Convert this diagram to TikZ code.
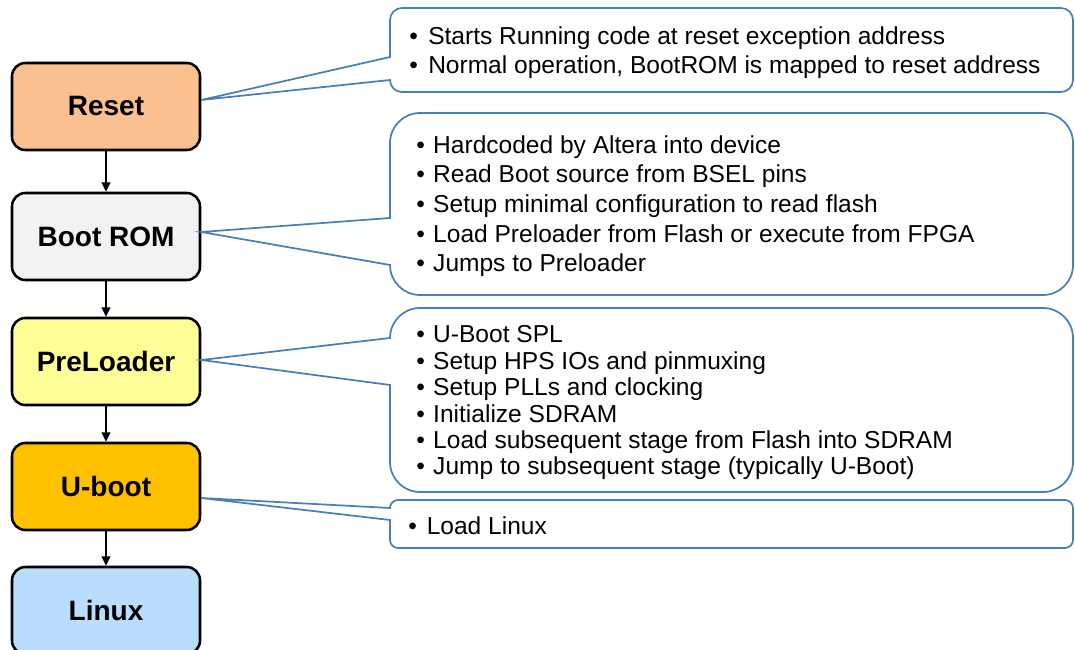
\documentclass[tikz,border=0pt]{standalone}
\usepackage{fontspec}
\setmainfont{Liberation Sans}
\usetikzlibrary{arrows.meta,calc}
\definecolor{resetc}{HTML}{FAC090}
\definecolor{romc}{HTML}{F2F2F2}
\definecolor{prec}{HTML}{FFFF99}
\definecolor{ubootc}{HTML}{FFC000}
\definecolor{linuxc}{HTML}{BADCFD}
\definecolor{calloutc}{HTML}{4A7EBB}
\begin{document}
\begin{tikzpicture}[x=0.75pt,y=0.75pt,
  stage/.style={draw=black, line width=1.9pt, rounded corners=10pt,
    minimum width=141pt, minimum height=65.25pt, inner sep=0pt,
    font=\fontsize{21}{25}\selectfont\bfseries},
  callout/.style={draw=calloutc, line width=1.3pt, fill=white},
  flow/.style={-{Triangle[length=7pt,width=6.5pt]}, line width=1.5pt, black},
  item/.style={anchor=base west, inner sep=0pt, font=\fontsize{18.4}{22}\selectfont}]
\useasboundingbox (0,0) rectangle (1075,650);
\begin{scope}
\clip (0,0) rectangle (1075,650);
% stages
\node[stage, fill=resetc]  (reset)   at (106,543.5) {Reset};
\node[stage, fill=romc]    (bootrom) at (106,413.5) {Boot ROM};
\node[stage, fill=prec]    (pre)     at (106,288.5) {PreLoader};
\node[stage, fill=ubootc]  (uboot)   at (106,163.5) {U-boot};
\node[stage, fill=linuxc]  (linux)   at (106,39.5)  {Linux};
\draw[flow] (reset) -- (bootrom);
\draw[flow] (bootrom) -- (pre);
\draw[flow] (pre) -- (uboot);
\draw[flow] (uboot) -- (linux);
% callout 1
\draw[callout] ($(reset.east)+(0,6.5)$) -- (390,593) -- (390,630)
  arc[start angle=180,end angle=90,radius=12] -- (1061,642)
  arc[start angle=90,end angle=0,radius=12] -- (1073,570)
  arc[start angle=0,end angle=-90,radius=12] -- (402,558)
  arc[start angle=270,end angle=180,radius=12] -- cycle;
\node[item] (c1a) at (409,605.7) {\makebox[14.25pt][l]{\textbullet}Starts Running code at reset exception address};
\node[item] (c1b) at (409,576.7) {\makebox[14.25pt][l]{\textbullet}Normal operation, BootROM is mapped to reset address};
% callout 2
\draw[callout] ($(bootrom.east)+(0,4.5)$) -- (390,432) -- (390,507)
  arc[start angle=180,end angle=90,radius=30] -- (1043,537)
  arc[start angle=90,end angle=0,radius=30] -- (1073,385)
  arc[start angle=0,end angle=-90,radius=30] -- (420,355)
  arc[start angle=270,end angle=180,radius=30] -- cycle;
\node[item] (c2a) at (416,496.7) {\makebox[12.75pt][l]{\textbullet}Hardcoded by Altera into device};
\node[item] (c2b) at (416,467.1) {\makebox[12.75pt][l]{\textbullet}Read Boot source from BSEL pins};
\node[item] (c2c) at (416,437.5) {\makebox[12.75pt][l]{\textbullet}Setup minimal configuration to read flash};
\node[item] (c2d) at (416,407.9) {\makebox[12.75pt][l]{\textbullet}Load Preloader from Flash or execute from FPGA};
\node[item] (c2e) at (416,378.3) {\makebox[12.75pt][l]{\textbullet}Jumps to Preloader};
% callout 3
\draw[callout] ($(pre.east)+(0,1.5)$) -- (390,312)
  arc[start angle=180,end angle=90,radius=30] -- (1043,342)
  arc[start angle=90,end angle=0,radius=30] -- (1073,188)
  arc[start angle=0,end angle=-90,radius=30] -- (420,158)
  arc[start angle=270,end angle=180,radius=30] -- (390,265) -- cycle;
\node[item] (c3a) at (416,307)   {\makebox[12.75pt][l]{\textbullet}U-Boot SPL};
\node[item] (c3b) at (416,280.6) {\makebox[12.75pt][l]{\textbullet}Setup HPS IOs and pinmuxing};
\node[item] (c3c) at (416,254.2) {\makebox[12.75pt][l]{\textbullet}Setup PLLs and clocking};
\node[item] (c3d) at (416,227.8) {\makebox[12.75pt][l]{\textbullet}Initialize SDRAM};
\node[item] (c3e) at (416,201.4) {\makebox[12.75pt][l]{\textbullet}Load subsequent stage from Flash into SDRAM};
\node[item] (c3f) at (416,175)   {\makebox[12.75pt][l]{\textbullet}Jump to subsequent stage (typically U-Boot)};
% callout 4
\draw[callout] ($(uboot.east)+(0,-11.5)$) -- (390,142)
  arc[start angle=180,end angle=90,radius=8] -- (1065,150)
  arc[start angle=90,end angle=0,radius=8] -- (1073,110)
  arc[start angle=0,end angle=-90,radius=8] -- (398,102)
  arc[start angle=270,end angle=180,radius=8] -- (390,130) -- cycle;
\node[item] (c4a) at (408,115.7) {\makebox[13.9pt][l]{\textbullet}Load Linux};
\end{scope}
\end{tikzpicture}
\end{document}
